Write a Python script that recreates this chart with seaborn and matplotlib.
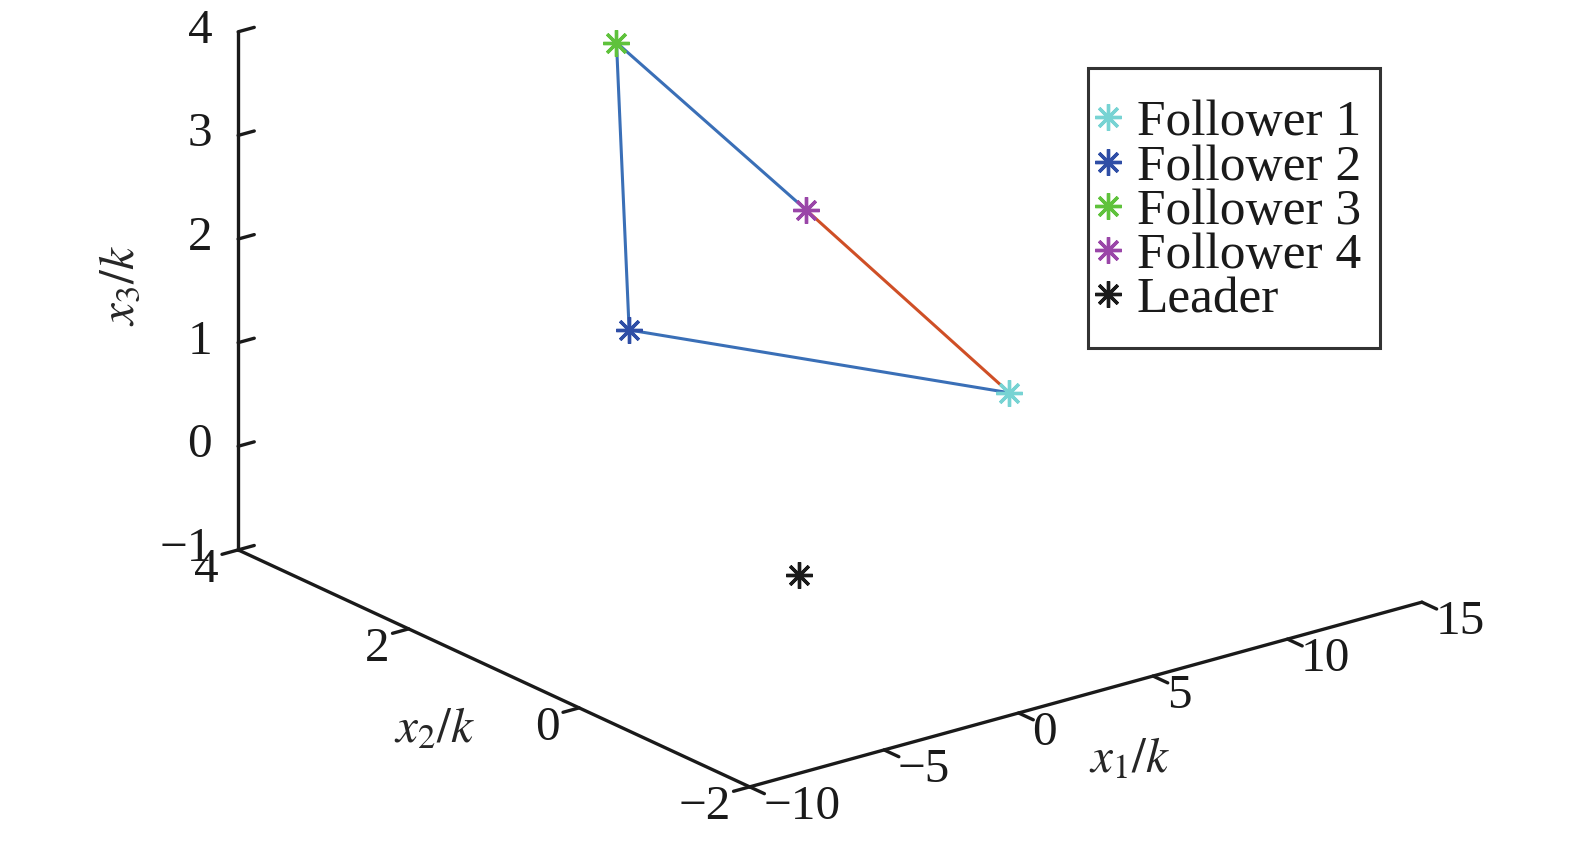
import matplotlib
matplotlib.use("Agg")
import matplotlib.pyplot as plt
import seaborn as sns
from matplotlib.lines import Line2D
from matplotlib.patches import Rectangle

# Posizioni finali (x1, x2, x3) di follower e leader
nomi = ["Follower 1", "Follower 2", "Follower 3", "Follower 4", "Leader"]
x1 = [6.0, -1.8, 0.9, 1.6, -3.4]
x2 = [0.0, 2.0, 3.0, 1.0, -0.5]
x3 = [0.9, 1.3, 3.5, 2.6, 0.0]
colori = ["#77d3d3", "#2f4ea6", "#5fc23c", "#9a46a8", "#1a1a1a"]

# collegamenti tra follower (indici)
percorso_blu = [0, 1, 2, 3]
percorso_rosso = [3, 0]

x1_ticks = [-10, -5, 0, 5, 10, 15]
x2_ticks = [-2, 0, 2, 4]
x3_ticks = [-1, 0, 1, 2, 3, 4]

sns.set_style("white")
plt.rcParams["font.family"] = ["Liberation Serif", "DejaVu Serif"]
plt.rcParams["mathtext.fontset"] = "stix"
plt.rcParams["axes.unicode_minus"] = True

FS = 35.5
FS_LEG = 37
asterisco = (8, 2, 0)
NERO = "#1a1a1a"

fig = plt.figure(figsize=(15.75, 8.46), dpi=100)
S = 1400
left = (830 - 0.5135 * S) / 1575
bottom = (529 - 0.5135 * S) / 846
ax = fig.add_axes([left, bottom, S / 1575, S / 846], projection="3d")
ax.set_proj_type("ortho")
ax.view_init(elev=20.9, azim=-127.6)
ax.set_box_aspect((1569.7, 1551.0, 1026.0), zoom=1277 / S)
ax.patch.set_alpha(0)

ax.plot([x1[i] for i in percorso_blu], [x2[i] for i in percorso_blu],
        [x3[i] for i in percorso_blu], color="#3a6fb7", linewidth=2.2)
ax.plot([x1[i] for i in percorso_rosso], [x2[i] for i in percorso_rosso],
        [x3[i] for i in percorso_rosso], color="#cf4f26", linewidth=2.2)

for i in range(len(nomi)):
    ax.plot([x1[i]], [x2[i]], [x3[i]], linestyle="none", marker=asterisco,
            markersize=19, markeredgewidth=2.4, color=colori[i])

ax.set_xlim(-10, 15)
ax.set_ylim(-2, 4)
ax.set_zlim(-1, 4)
ax.set_xticks(x1_ticks)
ax.set_yticks(x2_ticks)
ax.set_zticks(x3_ticks)
ax.grid(False)

# lunghezza e verso dei tick come in MATLAB
verso_tick = {ax.xaxis: (0.36, 0.0), ax.yaxis: (0.3, 0.0), ax.zaxis: (0.0, 0.3)}
for asse, (t_in, t_out) in verso_tick.items():
    asse.set_pane_color((1, 1, 1, 0))
    asse.pane.set_edgecolor((1, 1, 1, 0))
    asse.line.set_color(NERO)
    asse.line.set_linewidth(2.4)
    asse._axinfo["tick"]["inward_factor"] = t_in
    asse._axinfo["tick"]["outward_factor"] = t_out
    asse._axinfo["tick"]["linewidth"] = {True: 2.4, False: 1.0}
    asse._axinfo["tick"]["color"] = NERO
    asse.set_rotate_label(False)

ax.tick_params(labelsize=FS, colors=NERO)
ax.tick_params(axis="x", pad=6)
ax.tick_params(axis="y", pad=7)
ax.tick_params(axis="z", pad=3.5)

allineamento = {ax.xaxis: ("left", "center"), ax.yaxis: ("right", "center"),
                ax.zaxis: ("right", "center")}
for asse, (ha, va) in allineamento.items():
    for t in asse.get_major_ticks():
        t.label1.set_horizontalalignment(ha)
        t.label1.set_verticalalignment(va)

ax.set_xlabel(r"$x_1/k$", fontsize=FS, labelpad=24)
ax.set_ylabel(r"$x_2/k$", fontsize=FS, labelpad=25)
ax.set_zlabel(r"$x_3/k$", fontsize=FS, labelpad=31, rotation=90)

handles = [Line2D([], [], linestyle="none", marker=asterisco, markersize=19,
                  markeredgewidth=2.4, color=c) for c in colori]
leg = fig.legend(handles, nomi, loc="upper left",
                 bbox_to_anchor=(1095 / 1575, 1 - 99.5 / 846),
                 fontsize=FS_LEG, frameon=False, labelspacing=-0.055,
                 handlelength=0.5, handletextpad=0.31, borderpad=0,
                 borderaxespad=0)
for testo in leg.get_texts():
    testo.set_color(NERO)

# cornice della legenda (stile MATLAB)
fig.add_artist(Rectangle((1088 / 1575, 1 - 348 / 846), 292 / 1575, 280 / 846,
                         transform=fig.transFigure, fill=False,
                         edgecolor="#333333", linewidth=2.2))

fig.savefig("out.png", dpi=100)
